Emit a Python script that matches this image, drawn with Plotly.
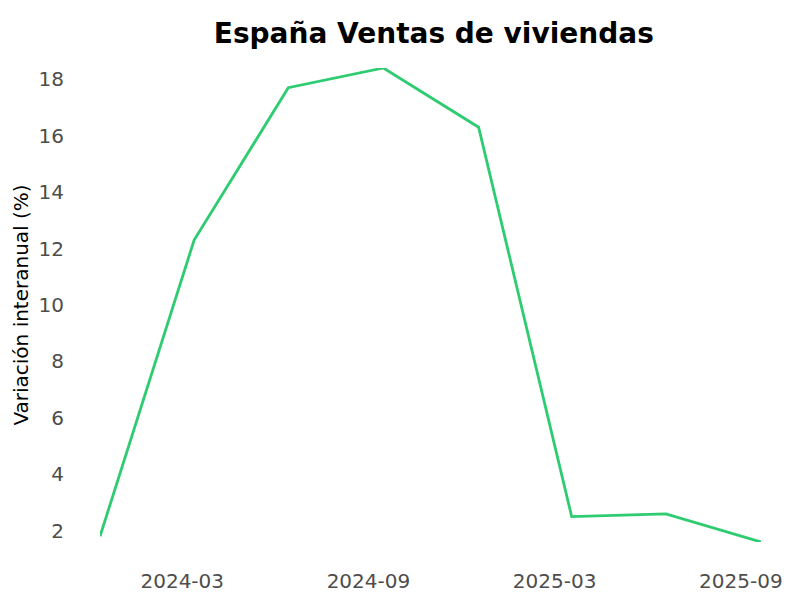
import plotly.graph_objects as go

# quarterly data, year-on-year change of home sales in Spain
quarters = [
    "2023-12-31", "2024-03-31", "2024-06-30", "2024-09-30",
    "2024-12-31", "2025-03-31", "2025-06-30", "2025-09-30",
]
yoy_change = [1.8, 12.3, 17.7, 18.4, 16.3, 2.5, 2.6, 1.6]

title_text = "España Ventas de viviendas"
y_title = "Variación interanual (%)"

fig = go.Figure(
    go.Scatter(
        x=quarters,
        y=yoy_change,
        mode="lines",
        line=dict(color="#2ecc71", width=2.8),
        showlegend=False,
    )
)

fig.update_layout(
    width=800,
    height=600,
    paper_bgcolor="white",
    plot_bgcolor="white",
    font=dict(family="DejaVu Sans", size=20, color="black"),
    margin=dict(l=100, r=39, t=68, b=58),
    title=dict(
        text=title_text,
        xref="paper",
        x=0.505,
        xanchor="center",
        y=1 - 33 / 600,
        yanchor="middle",
        font=dict(size=28, weight="bold", color="black"),
    ),
    xaxis=dict(
        type="date",
        range=[quarters[0], quarters[-1]],
        automargin=False,
        tick0="2024-03-19 12:00",
        dtick=180 * 24 * 3600 * 1000,
        tickformat="%Y-%m",
        showgrid=False,
        zeroline=False,
        showline=False,
        ticks="outside",
        ticklen=21,
        tickcolor="rgba(0,0,0,0)",
        tickfont=dict(size=20, color="#4d4d4d"),
    ),
    yaxis=dict(
        range=[min(yoy_change), max(yoy_change)],
        automargin=False,
        dtick=2,
        showgrid=False,
        zeroline=False,
        showline=False,
        ticks="outside",
        ticklen=31,
        tickcolor="rgba(0,0,0,0)",
        tickfont=dict(size=20, color="#4d4d4d"),
        title=dict(text=y_title, standoff=4, font=dict(size=20, color="black")),
    ),
)

# the page body has a default 8px margin; drop it so the figure fills the window
fig.write_html(
    "out.html",
    config={"displayModeBar": False},
    post_script="document.body.style.margin='0';",
)
